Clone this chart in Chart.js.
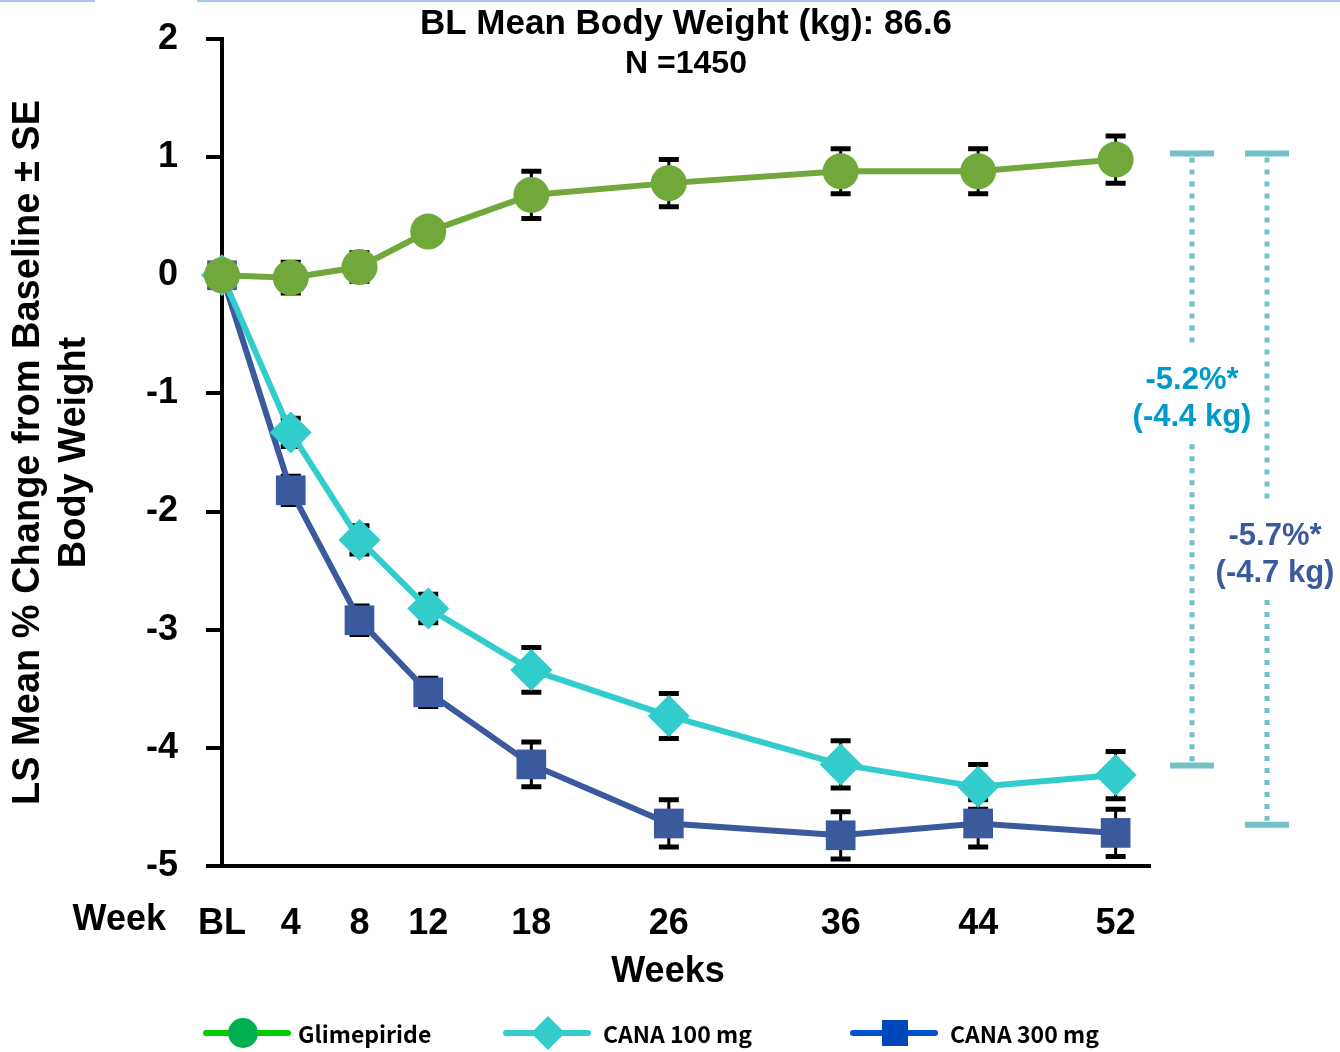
<!DOCTYPE html>
<html>
<head>
<meta charset="utf-8">
<script src="https://cdn.jsdelivr.net/npm/chart.js@4"></script>
<style>
  html, body { margin: 0; padding: 0; background: #fff; }
</style>
</head>
<body>
<canvas id="chart" width="1340" height="1052"></canvas>
<script>
// weeks on study (BL = 0)
const weeks = [0, 4, 8, 12, 18, 26, 36, 44, 52]
const weekTicks = [0, 4, 8, 12, 18, 26, 36, 44, 52]
const yTicks = [2, 1, 0, -1, -2, -3, -4, -5]

// LS mean % change from baseline, and SE
const glimepiride = [0, -0.02, 0.07, 0.37, 0.68, 0.78, 0.88, 0.88, 0.98]
const glimepirideSE = [0, 0.13, 0.12, 0.1, 0.2, 0.2, 0.19, 0.19, 0.2]
const cana100 = [0, -1.33, -2.24, -2.82, -3.34, -3.73, -4.14, -4.33, -4.23]
const cana100SE = [0, 0.12, 0.12, 0.12, 0.19, 0.19, 0.2, 0.19, 0.2]
const cana300 = [0, -1.82, -2.92, -3.53, -4.14, -4.64, -4.74, -4.64, -4.72]
const cana300SE = [0, 0.12, 0.12, 0.12, 0.19, 0.2, 0.2, 0.2, 0.2]

// difference brackets at week 52
const bracketTop = [1.03, 1.03]
const bracketBottom = [-4.15, -4.65]
const bracketText = [['-5.2%*', '(-4.4 kg)'], ['-5.7%*', '(-4.7 kg)']]

const titleLines = ['BL Mean Body Weight (kg): 86.6', 'N =1450']
const seriesNames = ['Glimepiride', 'CANA 100 mg', 'CANA 300 mg']

const FONT = "'Liberation Sans', Arial, sans-serif"

const toPoints = (values) => weeks.map((w, i) => ({ x: w, y: values[i] }))

// SE bars drawn under the lines and markers
const errorBars = {
  id: 'errorBars',
  beforeDatasetsDraw (chart) {
    const { ctx } = chart
    const yScale = chart.scales.y
    ctx.save()
    ctx.strokeStyle = '#000'
    chart.data.datasets.forEach((ds, i) => {
      const meta = chart.getDatasetMeta(i)
      meta.data.forEach((pt, j) => {
        const se = ds.errors[j]
        if (!se) return
        const v = ds.data[j].y
        const top = yScale.getPixelForValue(v + se)
        const bot = yScale.getPixelForValue(v - se)
        ctx.lineWidth = 3
        ctx.beginPath()
        ctx.moveTo(pt.x, top)
        ctx.lineTo(pt.x, bot)
        ctx.stroke()
        ctx.lineWidth = 5
        ctx.beginPath()
        ctx.moveTo(pt.x - 10, top)
        ctx.lineTo(pt.x + 10, top)
        ctx.moveTo(pt.x - 10, bot)
        ctx.lineTo(pt.x + 10, bot)
        ctx.stroke()
      })
    })
    ctx.restore()
  }
}

function drawMarker (ctx, style, x, y, color) {
  ctx.fillStyle = color
  ctx.beginPath()
  if (style === 'circle') {
    ctx.arc(x, y, 15, 0, Math.PI * 2)
  } else if (style === 'diamond') {
    ctx.moveTo(x, y - 17)
    ctx.lineTo(x + 17, y)
    ctx.lineTo(x, y + 17)
    ctx.lineTo(x - 17, y)
    ctx.closePath()
  } else {
    ctx.rect(x - 13, y - 13, 26, 26)
  }
  ctx.fill()
}

const extras = {
  id: 'extras',
  afterDraw (chart, args, opts) {
    const { ctx, chartArea } = chart
    const ys = chart.scales.y
    ctx.save()

    // thin border remnants along the top edge
    ctx.fillStyle = '#a9c7f4'
    ctx.fillRect(0, 0, 95, 2)
    ctx.fillRect(197, 0, chart.width - 197, 2)

    // header
    ctx.fillStyle = '#000'
    ctx.textAlign = 'center'
    ctx.textBaseline = 'middle'
    const cx = (chartArea.left + chartArea.right) / 2
    ctx.font = 'bold 35px ' + FONT
    ctx.fillText(titleLines[0], cx, 24)
    ctx.font = 'bold 32px ' + FONT
    ctx.fillText(titleLines[1], cx, 64)

    // "Week" row label and axis title
    ctx.font = 'bold 36px ' + FONT
    ctx.textAlign = 'right'
    ctx.fillText('Week', chartArea.left - 56, opts.tickRowY)
    ctx.textAlign = 'center'
    ctx.fillText('Weeks', cx - 18, opts.axisTitleY)

    // difference brackets
    opts.brackets.forEach((b, i) => {
      const x = chartArea.right + b.dx
      const yTop = ys.getPixelForValue(bracketTop[i])
      const yBot = ys.getPixelForValue(bracketBottom[i])
      const yText = ys.getPixelForValue(b.textAt)
      ctx.strokeStyle = '#73c1c8'
      ctx.lineWidth = 5
      ctx.setLineDash([5, 7])
      ctx.beginPath()
      ctx.moveTo(x, yTop + 4)
      ctx.lineTo(x, yText - 50)
      ctx.moveTo(x, yText + 46)
      ctx.lineTo(x, yBot - 4)
      ctx.stroke()
      ctx.setLineDash([])
      ctx.lineWidth = 6
      ctx.beginPath()
      ctx.moveTo(x - 22, yTop)
      ctx.lineTo(x + 22, yTop)
      ctx.moveTo(x - 22, yBot)
      ctx.lineTo(x + 22, yBot)
      ctx.stroke()

      ctx.fillStyle = b.color
      ctx.font = 'bold 31px ' + FONT
      ctx.textAlign = 'center'
      ctx.fillText(bracketText[i][0], x + b.textDx, yText - 18)
      ctx.fillText(bracketText[i][1], x + b.textDx, yText + 19)
    })

    // legend
    ctx.textAlign = 'left'
    ctx.textBaseline = 'middle'
    opts.legend.forEach((item, i) => {
      const y = opts.legendY
      ctx.strokeStyle = item.line
      ctx.lineWidth = 6
      ctx.lineCap = 'round'
      ctx.beginPath()
      ctx.moveTo(item.x, y)
      ctx.lineTo(item.x + 82, y)
      ctx.stroke()
      drawMarker(ctx, item.marker, item.x + item.mx, y, item.fill)
      ctx.fillStyle = '#000'
      ctx.font = "bold 23px 'Noto Sans CJK JP', " + FONT
      ctx.fillText(seriesNames[i], item.x + item.tx, y + 1)
    })

    ctx.restore()
  }
}

const datasets = [
  {
    label: seriesNames[0],
    data: toPoints(glimepiride),
    errors: glimepirideSE,
    borderColor: '#70a83c',
    backgroundColor: '#70a83c',
    pointStyle: 'circle',
    pointRadius: 18
  },
  {
    label: seriesNames[1],
    data: toPoints(cana100),
    errors: cana100SE,
    borderColor: '#33cccc',
    backgroundColor: '#33cccc',
    pointStyle: 'rectRot',
    pointRadius: 21
  },
  {
    label: seriesNames[2],
    data: toPoints(cana300),
    errors: cana300SE,
    borderColor: '#3b5a9d',
    backgroundColor: '#3b5a9d',
    pointStyle: 'rect',
    pointRadius: 21
  }
].map((ds) => ({
  ...ds,
  borderWidth: 6,
  pointBorderWidth: 0,
  pointHoverRadius: ds.pointRadius,
  tension: 0,
  clip: false
}))

const config = {
  type: 'line',
  data: { datasets },
  options: {
    responsive: false,
    animation: false,
    layout: { padding: { top: 39, right: 190, bottom: 66, left: 0 } },
    plugins: {
      legend: { display: false },
      tooltip: { enabled: false },
      extras: {
        tickRowY: 920,
        axisTitleY: 972,
        legendY: 1033,
        brackets: [
          { dx: 42, textAt: -1.04, textDx: 0, color: '#0099cc' },
          { dx: 117, textAt: -2.36, textDx: 8, color: '#3b5a9d' }
        ],
        legend: [
          { x: 206, mx: 37, tx: 92, line: '#00cc00', fill: '#00b050', marker: 'circle' },
          { x: 506, mx: 42, tx: 97, line: '#33cccc', fill: '#33cccc', marker: 'diamond' },
          { x: 853, mx: 42, tx: 97, line: '#0050d0', fill: '#0047bb', marker: 'square' }
        ]
      }
    },
    scales: {
      x: {
        type: 'linear',
        min: 0,
        max: 54,
        afterBuildTicks: (scale) => { scale.ticks = weekTicks.map((v) => ({ value: v })) },
        afterFit: (scale) => {
          scale.height = 120
          scale.paddingLeft = 0
          scale.paddingRight = 0
        },
        grid: { display: false, drawTicks: false },
        border: { display: true, color: '#000', width: 4 },
        ticks: {
          padding: 36,
          color: '#000',
          maxRotation: 0,
          autoSkip: false,
          font: { family: FONT, size: 36, weight: 'bold' },
          callback: (v) => (v === 0 ? 'BL' : String(v))
        }
      },
      y: {
        min: -5,
        max: 2,
        afterBuildTicks: (scale) => { scale.ticks = yTicks.map((v) => ({ value: v })) },
        afterFit: (scale) => {
          scale.width = 222
          scale.paddingTop = 0
          scale.paddingBottom = 0
        },
        grid: {
          display: true,
          drawOnChartArea: false,
          drawTicks: true,
          tickLength: 16,
          color: '#000',
          lineWidth: 4
        },
        border: { display: true, color: '#000', width: 4 },
        ticks: {
          padding: 28,
          color: '#000',
          font: { family: FONT, size: 36, weight: 'bold' },
          callback: (v) => String(v)
        },
        title: {
          display: true,
          text: ['LS Mean % Change from Baseline ± SE', 'Body Weight'],
          color: '#000',
          font: { family: FONT, size: 38, weight: 'bold' },
          padding: { top: 6, bottom: 0 },
          align: 'center'
        }
      }
    }
  },
  plugins: [errorBars, extras]
}

new Chart(document.getElementById('chart').getContext('2d'), config)
</script>
</body>
</html>
